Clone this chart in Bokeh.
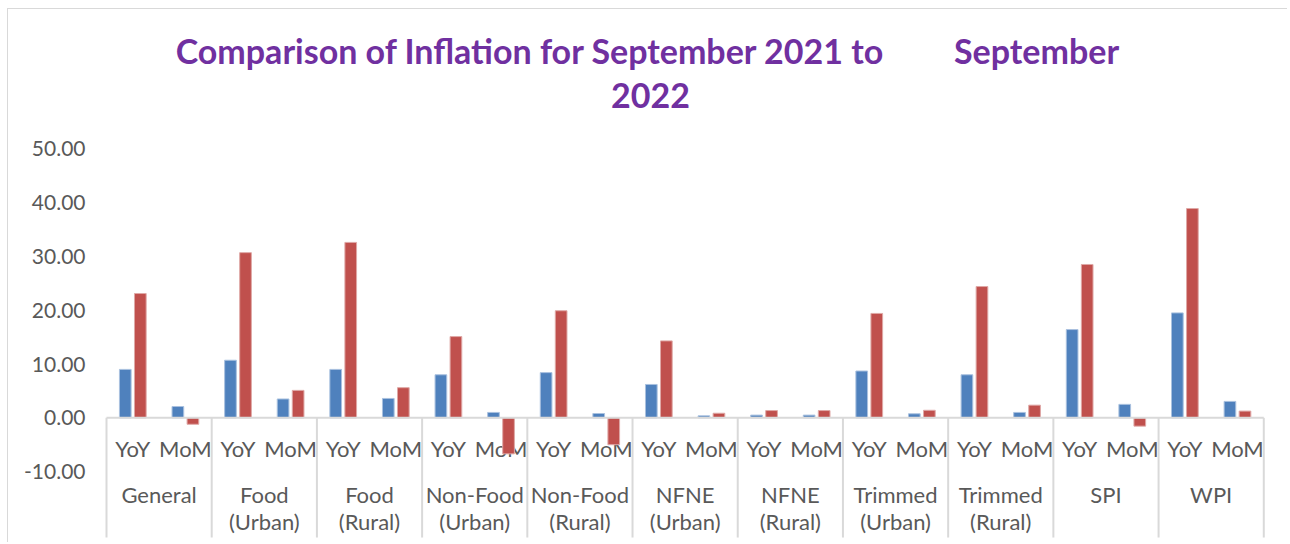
from bokeh.plotting import figure
from bokeh.models import Range1d, FixedTicker, PrintfTickFormatter
from bokeh.core.properties import value
from bokeh.embed import file_html
from bokeh.resources import INLINE

# ---------------- data ----------------
categories = ["General", "Food (Urban)", "Food (Rural)", "Non-Food (Urban)", "Non-Food (Rural)",
              "NFNE (Urban)", "NFNE (Rural)", "Trimmed (Urban)", "Trimmed (Rural)", "SPI", "WPI"]
subcategories = ["YoY", "MoM"]
series_names = ["September 2021", "September 2022"]
blue_yoy = [9.0, 10.7, 9.0, 8.0, 8.4, 6.2, 0.5, 8.7, 8.0, 16.4, 19.5]
blue_mom = [2.1, 3.5, 3.6, 1.0, 0.8, 0.37, 0.5, 0.75, 1.0, 2.5, 3.05]
red_yoy = [23.1, 30.7, 32.6, 15.1, 19.9, 14.3, 1.35, 19.4, 24.4, 28.5, 38.9]
red_mom = [-1.2, 5.1, 5.6, -6.7, -5.0, 0.85, 1.35, 1.4, 2.35, -1.55, 1.25]
y_ticks = [-10, 0, 10, 20, 30, 40, 50]
title_line1 = "Comparison of Inflation for September 2021 to"
title_line1b = "September"
title_line2 = "2022"

# ---------------- styles ----------------
BLUE = "#4F81BD"
RED = "#C0504D"
GRID = "#D9D9D9"
TXT = "#595959"
PURPLE = "#7030A0"
FONT = "Lato"

n = len(categories)
slots = [i * 2 + j for i in range(n) for j in range(2)]
blue_vals = [v for pair in zip(blue_yoy, blue_mom) for v in pair]
red_vals = [v for pair in zip(red_yoy, red_mom) for v in pair]
slot_labels = [subcategories[j] for i in range(n) for j in range(2)]

W, H = 1280, 534
y_lo, y_hi = -23.36, 75.89
x_lo, x_hi = -0.614, 21.97
div_bottom = -22.25

p = figure(width=W, height=H, output_backend="svg", toolbar_location=None,
           x_range=Range1d(x_lo, x_hi), y_range=Range1d(y_lo, y_hi),
           min_border_left=92, min_border_right=0, min_border_top=0, min_border_bottom=0)
p.styles = {"border-left": "1px solid #D9D9D9", "border-top": "1px solid #D9D9D9",
            "margin-left": "7px", "margin-top": "8px"}
p.outline_line_color = None
p.xgrid.visible = False
p.ygrid.visible = False
p.xaxis.visible = False
p.background_fill_color = "white"
p.border_fill_color = "white"

ya = p.yaxis[0]
ya.ticker = FixedTicker(ticks=y_ticks)
ya.formatter = PrintfTickFormatter(format="%.2f")
ya.axis_line_color = None
ya.major_tick_line_color = None
ya.minor_tick_line_color = None
ya.major_tick_out = 0
ya.major_tick_in = 0
ya.major_label_standoff = 15
ya.major_label_text_font = FONT
ya.major_label_text_font_size = "21px"
ya.major_label_text_color = TXT

# category labels
p.text(x=slots, y=[-5.7] * len(slots), text=slot_labels, text_align="center",
       text_baseline="middle", text_font=value(FONT), text_font_size="22px", text_color=TXT)
line1, line2 = [], []
for c in categories:
    if " (" in c:
        a, b = c.split(" (")
        line1.append(a)
        line2.append("(" + b)
    else:
        line1.append(c)
        line2.append("")
gx = [2 * i + 0.5 for i in range(n)]
p.text(x=gx, y=[-14.27] * n, text=line1, text_align="center", text_baseline="middle",
       text_font=value(FONT), text_font_size="22px", text_color=TXT)
p.text(x=gx, y=[-19.3] * n, text=line2, text_align="center", text_baseline="middle",
       text_font=value(FONT), text_font_size="22px", text_color=TXT)

# dividers
bx = [2 * i - 0.5 for i in range(n + 1)]
p.segment(x0=bx, y0=[0] * len(bx), x1=bx, y1=[div_bottom] * len(bx), line_color=GRID, line_width=2)

# bars
off, bw = 0.143, 0.222
p.vbar(x=[s - off for s in slots], top=blue_vals, bottom=0, width=bw,
       fill_color=BLUE, line_color="#A9C1DF", line_width=1)
p.vbar(x=[s + off for s in slots], top=red_vals, bottom=0, width=bw,
       fill_color=RED, line_color="#DFA8A6", line_width=1)

# zero line
p.segment(x0=[-0.5], y0=[0], x1=[2 * n - 0.5], y1=[0], line_color=GRID, line_width=2)

# title
p.text(x=[7.56], y=[68.27], text=[title_line1], text_align="center", text_baseline="middle",
       text_font=value(FONT), text_font_size="34px", text_font_style="bold", text_color=PURPLE)
p.text(x=[17.18], y=[68.27], text=[title_line1b], text_align="center", text_baseline="middle",
       text_font=value(FONT), text_font_size="34px", text_font_style="bold", text_color=PURPLE)
p.text(x=[9.84], y=[59.9], text=[title_line2], text_align="center", text_baseline="middle",
       text_font=value(FONT), text_font_size="34px", text_font_style="bold", text_color=PURPLE)

open("out.html", "w").write(file_html(p, INLINE))
